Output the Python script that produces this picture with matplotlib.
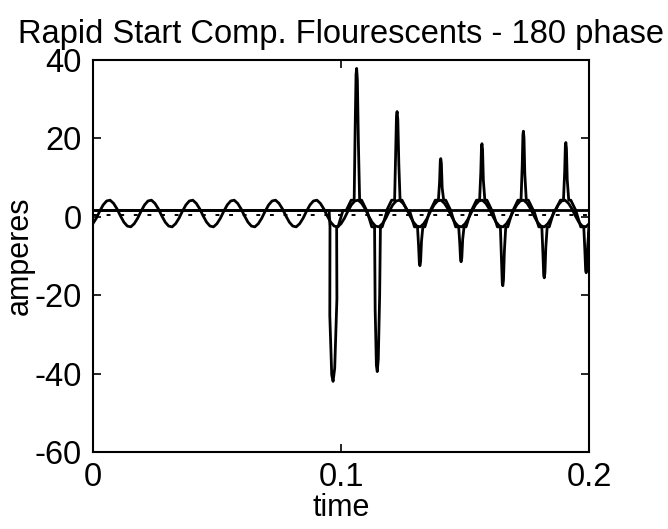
import numpy as np
import matplotlib.pyplot as plt

plt.rcParams['font.family'] = ['Liberation Sans', 'DejaVu Sans']
plt.rcParams['axes.unicode_minus'] = False

# 60 Hz reference wave, 12 samples per cycle
t_sine = np.linspace(0, 0.2, 145)
sine_vals = [
    -1.8, -0.4, 1.4, 3.0, 4.0, 4.2, 3.4, 2.0, 0.2, -1.4, -2.4, -2.6,
    -1.8, -0.4, 1.4, 3.0, 4.0, 4.2, 3.4, 2.0, 0.2, -1.4, -2.4, -2.6,
    -1.8, -0.4, 1.4, 3.0, 4.0, 4.2, 3.4, 2.0, 0.2, -1.4, -2.4, -2.6,
    -1.8, -0.4, 1.4, 3.0, 4.0, 4.2, 3.4, 2.0, 0.2, -1.4, -2.4, -2.6,
    -1.8, -0.4, 1.4, 3.0, 4.0, 4.2, 3.4, 2.0, 0.2, -1.4, -2.4, -2.6,
    -1.8, -0.4, 1.4, 3.0, 4.0, 4.2, 3.4, 2.0, 0.2, -1.4, -2.4, -2.6,
    -1.8, -0.4, 1.4, 3.0, 4.0, 4.2, 3.4, 2.0, 0.2, -1.4, -2.4, -2.6,
    -1.8, -0.4, 1.4, 3.0, 4.0, 4.2, 3.4, 2.0, 0.2, -1.4, -2.4, -2.6,
    -1.8, -0.4, 1.4, 3.0, 4.0, 4.2, 3.4, 2.0, 0.2, -1.4, -2.4, -2.6,
    -1.8, -0.4, 1.4, 3.0, 4.0, 4.2, 3.4, 2.0, 0.2, -1.4, -2.4, -2.6,
    -1.8, -0.4, 1.4, 3.0, 4.0, 4.2, 3.4, 2.0, 0.2, -1.4, -2.4, -2.6,
    -1.8, -0.4, 1.4, 3.0, 4.0, 4.2, 3.4, 2.0, 0.2, -1.4, -2.4, -2.6,
    -1.8,
]

# lamp current spikes after switch-on
spike_times = [0.0968, 0.1063, 0.1146, 0.1226, 0.1318, 0.1402, 0.1484,
               0.1568, 0.1652, 0.1735, 0.1819, 0.1906, 0.1988]
spike_peaks = [-42.0, 37.8, -39.5, 26.8, -12.5, 14.8, -11.5,
               18.6, -17.6, 21.8, -15.6, 18.9, -14.3]
spike_widths = [0.0022, 0.0010, 0.0014, 0.0010, 0.0009, 0.0008, 0.0009,
                0.0008, 0.0009, 0.0008, 0.0009, 0.0008, 0.0009]
flat_level = 1.6
hi_level = 4.2
lo_level = -2.6
switch_on = 0.0952
dotted_level = 0.5

# build the spiky current trace
cur_t = [0.0, switch_on]
cur_v = [flat_level, flat_level]
for ts, pk, w in zip(spike_times, spike_peaks, spike_widths):
    lvl = hi_level if pk > 0 else lo_level
    if ts > 0.1:
        cur_t += [ts - 0.0042, ts - 0.0022]
        cur_v += [flat_level, lvl]
    cur_t += [ts - 0.0008 - w * 0.2, ts - w * 0.6, ts - w * 0.25, ts, ts + w * 0.3, ts + w * 0.7, ts + 0.0010 + w * 0.2]
    cur_v += [lvl, pk * 0.6, pk * 0.96, pk, pk * 0.92, pk * 0.5, lvl]
    if ts < 0.198:
        cur_t += [ts + 0.0020, ts + 0.0040]
        cur_v += [lvl, flat_level]
    else:
        cur_t += [0.2]
        cur_v += [pk * 0.4]

fig = plt.figure(figsize=(6.68, 5.29), dpi=100)
ax = fig.add_axes([0.139, 0.1456, 0.743, 0.7414])

ax.plot([0, 0.2], [flat_level, flat_level], color='black', lw=2)
ax.plot([0, 0.2], [dotted_level, dotted_level], color='black', lw=1.4, ls=(0, (2, 5)))
ax.plot(t_sine, sine_vals, color='black', lw=2)
ax.plot(cur_t, cur_v, color='black', lw=2)

ax.set_xlim(0, 0.2)
ax.set_ylim(-60, 40)
ax.set_xticks([0, 0.1, 0.2])
ax.set_xticklabels(['0', '0.1', '0.2'])
ax.set_yticks([-60, -40, -20, 0, 20, 40])
ax.tick_params(direction='in', length=6, width=1.2, top=True, right=True,
               labelsize=23.5)
ax.tick_params(axis='x', pad=7)
ax.tick_params(axis='y', pad=8)
for s in ax.spines.values():
    s.set_linewidth(1.5)

ax.set_title('Rapid Start Comp. Flourescents - 180 phase', fontsize=23.5, pad=12)
ax.set_xlabel('time', fontsize=22, labelpad=0)
ax.set_ylabel('amperes', fontsize=22, labelpad=0)

fig.savefig('out.png', dpi=100)
